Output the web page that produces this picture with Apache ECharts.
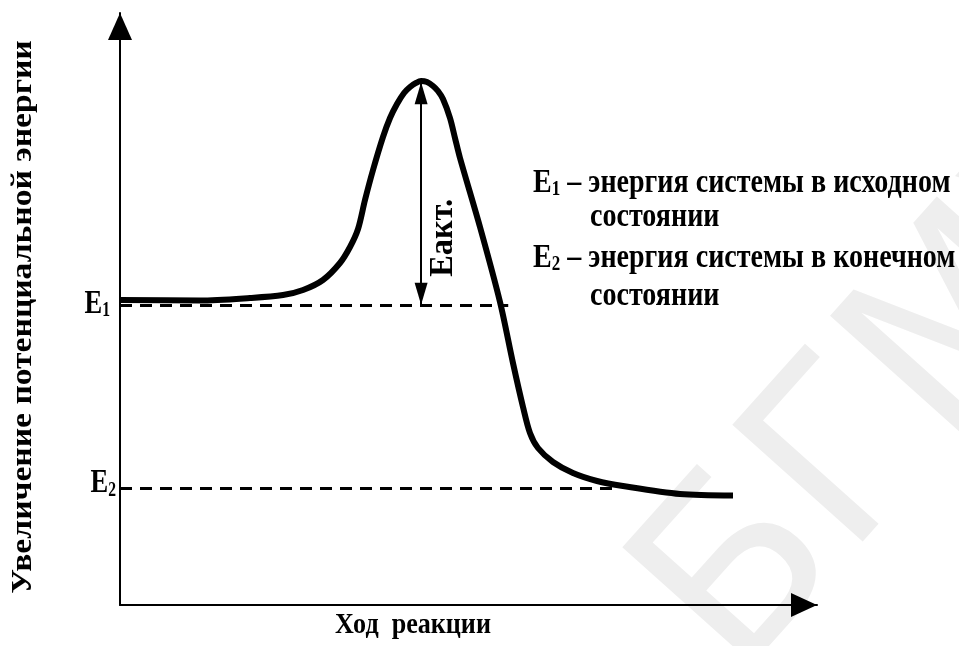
<!DOCTYPE html>
<html>
<head>
<meta charset="utf-8">
<script src="https://cdn.jsdelivr.net/npm/echarts@6/dist/echarts.min.js"></script>
<style>
  html, body { margin: 0; padding: 0; background: #fff; }
  #chart { width: 959px; height: 646px; }
</style>
</head>
<body>
<div id="chart"></div>
<script>
// Energy profile of a reaction, relative units (0..100 on both axes)
const reactionProgress = [0, 11.48, 18.65, 23.39, 26.26, 29.12, 31.56, 33.0, 34.15, 35.15, 36.3, 37.73, 38.74, 39.74,
  40.75, 41.61, 42.47, 43.19, 44.05, 44.91, 45.62, 46.34, 47.35, 48.06, 48.78, 51.65, 54.52, 56.38, 57.82, 58.82,
  59.97, 62.12, 64.99, 68.44, 72.17, 80.34, 87.95];
const potentialEnergy = [51.5, 51.44, 51.86, 52.36, 53.21, 54.9, 57.77, 60.47, 63.51, 68.41, 73.48, 79.05, 82.26, 84.63,
  86.49, 87.5, 88.18, 88.51, 88.34, 87.67, 86.82, 85.47, 82.26, 78.9, 75.51, 63.85, 51.18, 40.88, 33.45, 29.05,
  26.52, 24.16, 22.3, 20.95, 20.1, 18.75, 18.5];

// Energy levels and transition state
const levelNames = ['E1', 'E2'];
const levelValues = [50.7, 19.7];
const levelEnds = [55.7, 71.7];
const peakProgress = 43.2;
const peakEnergy = 88.3;

// Texts
const axisTitleY = 'Увеличение потенциальной энергии';
const axisTitleX = 'Ход  реакции';
const activationLabel = 'Еакт.';
const legendLines = [
  ['1', ' – энергия системы в исходном'],
  ['состоянии'],
  ['2', ' – энергия системы в конечном'],
  ['состоянии']
];
const watermarkText = 'БГМУ';

const SERIF = '"Liberation Serif", "Times New Roman", serif';

const chart = echarts.init(document.getElementById('chart'));

const axisLineStyle = { color: '#000', width: 2 };

chart.setOption({
  animation: false,
  backgroundColor: '#fff',
  grid: { left: 120, right: 142, top: 13, bottom: 41 },
  xAxis: {
    type: 'value', min: 0, max: 100,
    axisLine: { show: true, onZero: false, symbol: ['none', 'triangle'], symbolSize: [24, 26], symbolOffset: [0, -13], lineStyle: axisLineStyle },
    axisTick: { show: false }, axisLabel: { show: false }, splitLine: { show: false }
  },
  yAxis: {
    type: 'value', min: 0, max: 100,
    axisLine: { show: true, onZero: false, symbol: ['none', 'triangle'], symbolSize: [24, 27], symbolOffset: [0, -13.5], lineStyle: axisLineStyle },
    axisTick: { show: false }, axisLabel: { show: false }, splitLine: { show: false }
  },
  series: [
    {
      name: 'energy',
      type: 'line',
      z: 3,
      data: reactionProgress.map((x, i) => [x, potentialEnergy[i]]),
      showSymbol: false,
      smooth: 0.3,
      lineStyle: { color: '#000', width: 6, cap: 'butt', join: 'round' },
      markLine: {
        silent: true,
        symbol: ['none', 'none'],
        label: { show: false },
        lineStyle: { color: '#000', type: [12, 8], width: 3 },
        data: levelValues.map((v, i) => [
          { name: levelNames[i], coord: [0, v] },
          { coord: [levelEnds[i], v] }
        ])
      }
    },
    {
      name: 'activation',
      type: 'line',
      z: 4,
      data: [],
      markLine: {
        silent: true,
        symbol: ['triangle', 'triangle'],
        symbolSize: [13, 22],
        symbolOffset: [[0, 11], [0, 11]],
        label: { show: false },
        lineStyle: { color: '#000', type: 'solid', width: 2 },
        data: [[{ coord: [peakProgress, levelValues[0]] }, { coord: [peakProgress, peakEnergy] }]]
      }
    }
  ]
});

// Text annotations placed through the grid's coordinate system
const px = (x, y) => chart.convertToPixel({ gridIndex: 0 }, [x, y]);
const origin = px(0, 0);
const e1 = px(0, levelValues[0]);
const e2 = px(0, levelValues[1]);
const arrowBottom = px(peakProgress, levelValues[0]);

const subRich = (big, small) => ({
  e: { fontFamily: SERIF, fontWeight: 'bold', fontSize: big, lineHeight: big },
  s: { fontFamily: SERIF, fontWeight: 'bold', fontSize: small, lineHeight: small, verticalAlign: 'bottom' },
  t: { fontFamily: SERIF, fontWeight: 'bold', fontSize: big, lineHeight: big }
});

const graphics = [];

// watermark
graphics.push({
  type: 'text', z: -10, silent: true,
  x: 780, y: 720, rotation: 0.84,
  style: { text: watermarkText, fill: '#eeeeee', font: '240px "DejaVu Sans", sans-serif', textVerticalAlign: 'bottom' }
});

// level labels on the energy axis
[e1, e2].forEach((p, i) => {
  graphics.push({
    type: 'text', z: 10, silent: true,
    x: origin[0] - (i === 0 ? 10 : 4), y: p[1] - (i === 0 ? 1 : 5),
    scaleX: 0.78,
    style: {
      text: '{e|E}{s|' + (i + 1) + '}',
      rich: subRich(34, 20),
      textAlign: 'right', textVerticalAlign: 'middle', fill: '#000'
    }
  });
});

// activation energy label
graphics.push({
  type: 'text', z: 10, silent: true,
  x: arrowBottom[0] + 22, y: arrowBottom[1] - 67,
  rotation: Math.PI / 2, scaleX: 0.95,
  style: { text: activationLabel, font: 'bold 34px ' + SERIF, textAlign: 'center', textVerticalAlign: 'middle', fill: '#000' }
});

// axis titles
graphics.push({
  type: 'text', z: 10, silent: true,
  x: 23, y: 317, rotation: Math.PI / 2, scaleX: 1.12,
  style: { text: axisTitleY, font: 'bold 30px ' + SERIF, textAlign: 'center', textVerticalAlign: 'middle', fill: '#000' }
});
graphics.push({
  type: 'text', z: 10, silent: true,
  x: 413, y: 625, scaleX: 0.87,
  style: { text: axisTitleX, font: 'bold 30px ' + SERIF, textAlign: 'center', textVerticalAlign: 'middle', fill: '#000' }
});

// legend
const legendY = [183, 217, 258, 296];
legendLines.forEach((parts, i) => {
  const withSymbol = parts.length === 2;
  graphics.push({
    type: 'text', z: 10, silent: true,
    x: withSymbol ? 533 : 590, y: legendY[i], scaleX: 0.85,
    style: {
      text: withSymbol ? '{e|E}{s|' + parts[0] + '}{t|' + parts[1] + '}' : '{t|' + parts[0] + '}',
      rich: subRich(33, 20),
      textAlign: 'left', textVerticalAlign: 'middle', fill: '#000'
    }
  });
});

chart.setOption({ graphic: graphics });
</script>
</body>
</html>
